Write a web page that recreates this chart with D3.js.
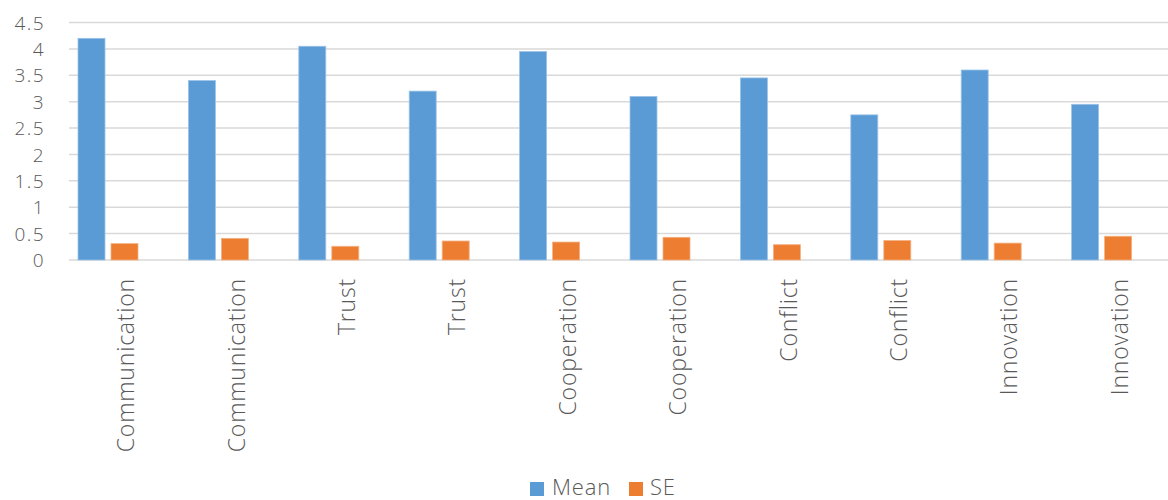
<!DOCTYPE html>
<html>
<head>
<meta charset="utf-8">
<script src="https://cdn.jsdelivr.net/npm/d3@7"></script>
<style>
  html, body { margin: 0; padding: 0; background: #fff; }
  svg text { font-family: "Open Sans", "Noto Sans", sans-serif; font-weight: 300; fill: #595959; }
</style>
</head>
<body>
<svg id="chart" width="1168" height="500"></svg>
<script>
const categories = ["Communication", "Communication", "Trust", "Trust", "Cooperation", "Cooperation", "Conflict", "Conflict", "Innovation", "Innovation"];
const meanValues = [4.2, 3.4, 4.05, 3.2, 3.95, 3.1, 3.45, 2.75, 3.6, 2.95];
const seValues = [0.31, 0.41, 0.26, 0.36, 0.34, 0.43, 0.29, 0.37, 0.32, 0.45];
const seriesNames = ["Mean", "SE"];
const yTicks = [0, 0.5, 1, 1.5, 2, 2.5, 3, 3.5, 4, 4.5];
const colors = ["#5B9BD5", "#ED7D31"];

const svg = d3.select("#chart");
const plotLeft = 69, plotRight = 1173, plotTop = 22.5, plotBottom = 260;

const x = d3.scaleBand().domain(d3.range(categories.length)).range([plotLeft, plotRight]).padding(0);
const xSub = d3.scaleBand().domain(seriesNames).range([9, 69]).paddingInner(0.182).paddingOuter(0);
const y = d3.scaleLinear().domain([0, 4.5]).range([plotBottom, plotTop]);

// gridlines
svg.append("g").selectAll("line").data(yTicks).join("line")
  .attr("x1", plotLeft).attr("x2", 1168)
  .attr("y1", d => y(d)).attr("y2", d => y(d))
  .attr("stroke", "#d9d9d9").attr("stroke-width", 1.5);

// y axis labels
const yAxis = d3.axisLeft(y).tickValues(yTicks).tickSize(0).tickPadding(0).tickFormat(d3.format("~g"));
const yg = svg.append("g").attr("transform", "translate(45,0)").call(yAxis);
yg.select(".domain").remove();
yg.selectAll("text").attr("font-size", 19).attr("font-family", null).attr("dy", "0.35em")
  .style("letter-spacing", "1.4px").style("fill", "#595959");

// bars
const data = categories.map((c, i) => ({ i, vals: [meanValues[i], seValues[i]] }));
const groups = svg.append("g").selectAll("g").data(data).join("g")
  .attr("transform", d => `translate(${x(d.i)},0)`);
groups.selectAll("rect").data(d => d.vals.map((v, k) => ({ k, v }))).join("rect")
  .attr("x", d => xSub(seriesNames[d.k]))
  .attr("width", xSub.bandwidth())
  .attr("y", d => y(d.v))
  .attr("height", d => y(0) - y(d.v))
  .attr("fill", d => colors[d.k])
  .attr("stroke", d => d.k === 0 ? "#9cc3e8" : "#f4b183")
  .attr("stroke-width", 0.8);

// x labels
const xAxis = d3.axisBottom(x).tickSize(0).tickFormat(i => categories[i]);
const xg = svg.append("g").attr("transform", `translate(0,${plotBottom})`).call(xAxis);
xg.select(".domain").remove();
xg.selectAll("text")
  .attr("font-size", 23).attr("font-family", null)
  .attr("text-anchor", "end")
  .attr("transform", "translate(2,18) rotate(-90)")
  .attr("x", 0).attr("y", 0).attr("dy", "0.35em")
  .style("letter-spacing", "0.8px")
  .style("fill", "#595959");

// legend
const legendItems = [{ name: "Mean", sx: 530, tx: 552 }, { name: "SE", sx: 629, tx: 650 }];
const lg = svg.append("g");
legendItems.forEach((it, k) => {
  lg.append("rect").attr("x", it.sx).attr("y", 482).attr("width", 14).attr("height", 14).attr("fill", colors[k]);
  lg.append("text").attr("x", it.tx).attr("y", 495).attr("font-size", 22)
    .style("letter-spacing", "0.8px").text(it.name);
});
</script>
</body>
</html>
